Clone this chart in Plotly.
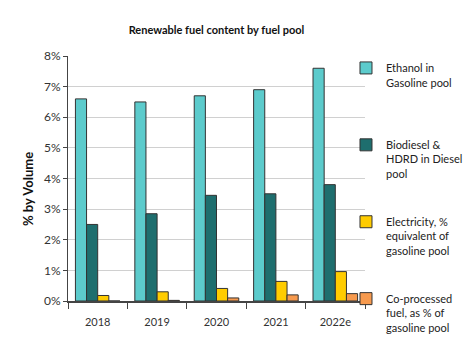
import plotly.graph_objects as go

years = ["2018", "2019", "2020", "2021", "2022e"]
ethanol = [6.6, 6.5, 6.7, 6.9, 7.6]
biodiesel = [2.5, 2.85, 3.45, 3.5, 3.8]
electricity = [0.18, 0.3, 0.41, 0.64, 0.96]
coprocessed = [0.0, 0.02, 0.1, 0.2, 0.24]

names = ["Ethanol in<br>Gasoline pool<br> ",
         "Biodiesel &<br>HDRD in Diesel<br>pool",
         "Electricity, %<br>equivalent of<br>gasoline pool",
         "Co-processed<br>fuel, as % of<br>gasoline pool"]
series = [ethanol, biodiesel, electricity, coprocessed]
colors = ["#5CCBCC", "#1E6E6E", "#FFCC00", "#F79A4E"]

fig = go.Figure()
for i, (nm, vals, col) in enumerate(zip(names, series, colors)):
    fig.add_trace(go.Bar(
        x=years, y=[v / 100 for v in vals], name=nm,
        marker=dict(color=col, line=dict(color="#333333", width=1)),
        legendgroup=f"g{i}",
    ))

FONT = "Lato, Liberation Sans, sans-serif"
fig.update_layout(
    width=474, height=357,
    margin=dict(l=60, r=117, t=48, b=64, autoexpand=False),
    paper_bgcolor="white", plot_bgcolor="white",
    barmode="group", bargap=0.25, bargroupgap=0,
    font=dict(family=FONT, size=11, color="#222222"),
    title=dict(text="<b>Renewable fuel content by fuel pool</b>",
               x=0.5, xref="paper", xanchor="center",
               y=1 - 22 / 357, yanchor="middle",
               font=dict(size=11, family=FONT, color="#111111")),
    legend=dict(x=0.936, xanchor="left", y=1.007, yanchor="top",
                font=dict(size=11, family=FONT, color="#222222"),
                tracegroupgap=31, valign="top", itemwidth=30,
                traceorder="grouped", bgcolor="rgba(0,0,0,0)",
                maxheight=320),
    showlegend=True,
    annotations=[dict(text="<b>% by Volume</b>", textangle=-90,
                      xref="paper", yref="paper", x=-0.135, y=0.457,
                      xanchor="center", yanchor="middle", showarrow=False,
                      font=dict(size=13, family=FONT, color="#111111"))],
)
fig.update_yaxes(range=[0, 0.08], dtick=0.01, tickformat=".0%",
                 showgrid=True, gridcolor="#D0D0D0", gridwidth=1,
                 showline=True, linecolor="#444444", linewidth=1,
                 ticks="outside", ticklen=4, tickcolor="#444444",
                 tickfont=dict(size=12, family=FONT, color="#333333"),
                 zeroline=False, automargin=False)
fig.update_xaxes(showline=True, linecolor="#444444", linewidth=1.5,
                 ticks="outside", tickson="boundaries", ticklen=6,
                 tickcolor="#444444", ticklabelstandoff=10, automargin=False,
                 tickfont=dict(size=11, family=FONT, color="#333333"))

fig.write_html("out.html")
